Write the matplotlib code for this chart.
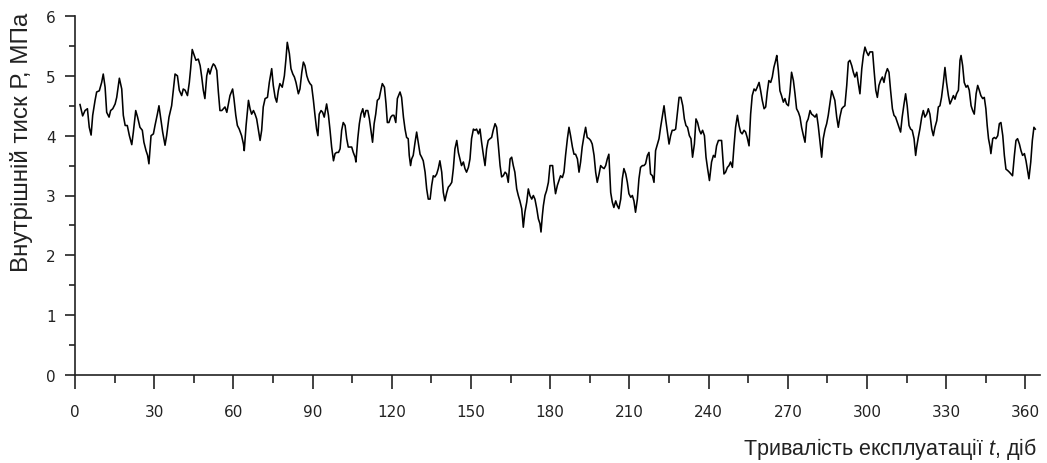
import matplotlib
matplotlib.use("Agg")
import matplotlib.pyplot as plt
from matplotlib.ticker import MultipleLocator

# доба експлуатації
day = [
    1.9, 2.9, 3.8, 4.7, 5.4, 6.1, 6.7, 7.6, 8.2, 9.2, 10.1, 10.7, 11.4, 12.0, 12.9, 13.5, 14.3, 15.2, 15.8, 16.8,
    17.7, 18.3, 19.0, 19.8, 20.6, 21.5, 22.1, 23.0, 23.7, 24.6, 25.5, 26.1, 26.9, 27.5, 28.0, 28.8, 29.7, 30.3, 31.2, 31.8,
    32.5, 33.2, 34.1, 34.7, 35.6, 36.6, 37.3, 37.9, 38.8, 39.5, 40.4, 41.0, 41.7, 42.6, 43.3, 43.8, 44.4, 45.2, 45.8, 46.7,
    47.4, 48.0, 48.6, 49.2, 49.9, 50.5, 51.1, 51.8, 52.4, 53.0, 53.7, 54.3, 54.9, 55.6, 56.2, 56.8, 57.5, 58.1,
    58.7, 59.7, 60.2, 60.9, 61.5, 62.2, 63.1, 63.8, 64.1, 64.8, 65.7, 66.3, 66.9, 67.6, 68.2, 68.8, 69.4, 70.1, 70.7, 71.3,
    72.0, 72.9, 73.6, 74.5, 75.1, 75.8, 76.4, 77.0, 77.6, 78.5, 79.3, 79.9, 80.4, 81.2, 81.8, 82.5, 83.1, 83.7, 84.6, 85.2,
    85.9, 86.5, 87.1, 87.8, 88.4, 89.0, 89.6, 90.3, 90.9, 91.5, 92.0, 92.5, 93.2, 93.8, 94.4, 95.3, 96.0, 96.6, 97.2, 97.9,
    98.5, 99.1, 99.8, 100.4, 101.0, 101.6, 102.3, 102.9, 103.5, 104.2, 104.8, 105.4, 106.1, 106.4, 107.1, 107.7, 108.3, 109.0, 109.6, 110.2,
    110.9, 111.5, 112.1, 112.7, 113.3, 113.9, 114.5, 115.2, 115.8, 116.4, 117.2, 117.8, 118.3, 118.9,
    119.6, 120.2, 120.8, 121.5, 122.1, 123.1, 123.7, 124.4, 125.0, 125.6, 126.2, 126.6, 127.1, 127.5, 128.1, 128.8, 129.4, 130.0,
    130.7, 131.3, 131.9, 132.6, 133.2, 133.8, 134.5, 135.1, 135.7, 136.3, 137.0, 137.6, 138.2, 138.9, 139.5, 140.1, 140.8, 141.4,
    142.0, 142.7, 143.3, 143.9, 144.6, 145.2, 145.8, 146.4, 147.1, 147.7, 148.3, 149.0, 149.6, 150.2, 150.9, 151.5, 152.1, 152.8,
    153.4, 154.0, 154.7, 155.3, 155.9, 156.5, 157.2, 157.8, 158.4, 159.1, 159.7, 160.3, 161.0, 161.6, 162.2, 162.9, 163.5, 164.1,
    164.8, 165.4, 166.0, 166.6, 167.3, 167.9, 168.5, 169.2, 169.8, 170.4, 171.1, 171.7, 172.3, 173.0, 173.6, 174.2, 174.9, 175.5,
    176.1, 176.5, 177.0, 177.4, 178.0, 178.6, 179.3,
    179.9, 180.9, 181.4, 182.0, 182.7, 183.3, 183.9, 184.6, 185.2, 185.8, 186.5, 187.1, 187.7, 188.4, 189.0, 189.6, 190.3, 190.9,
    191.5, 192.1, 192.8, 193.4, 194.0, 194.7, 195.3, 195.9, 196.6, 197.2, 197.8, 198.5, 199.1, 199.7, 200.4, 201.0, 201.6, 202.2,
    202.9, 203.5, 204.1, 204.8, 205.4, 206.0, 206.7, 207.3, 207.9, 208.6, 209.2, 209.8, 210.5, 211.1, 211.7, 212.3, 213.0, 213.6,
    214.2, 214.9, 215.5, 216.1, 216.8, 217.4, 218.0, 218.7, 219.3, 219.9, 220.6, 221.2, 221.8, 222.5, 223.1, 223.7, 224.3, 225.0,
    225.6, 226.2, 226.9, 227.5, 228.1, 228.8, 229.5, 230.2, 230.8, 231.4, 232.0, 232.7, 233.3, 233.9, 234.6, 235.2, 235.8, 236.5,
    237.1, 237.7, 238.4, 239.0, 239.6, 240.3,
    241.1, 241.8, 242.4, 243.0, 243.7, 244.3, 244.9, 245.3, 245.8, 246.4, 247.1, 247.7, 248.3, 249.0, 249.6, 250.2, 250.9, 251.5,
    252.1, 252.7, 253.4, 254.0, 254.6, 255.3, 255.9, 256.5, 257.2, 257.8, 258.4, 259.1, 259.7, 260.3, 261.0, 261.6, 262.2, 262.8,
    263.5, 264.1, 264.7, 265.4, 265.8, 266.4, 267.0, 267.6, 268.3, 268.9, 269.5, 270.2, 270.8, 271.4, 272.1, 272.7, 273.3, 274.0,
    274.6, 275.2, 275.9, 276.5, 277.1, 277.7, 278.4, 279.0, 279.6, 280.3, 280.9, 281.5, 282.2, 282.8, 283.4, 284.1, 284.7, 285.3,
    286.0, 286.6, 287.2, 287.8, 288.5, 289.1, 289.7, 290.4, 291.0, 291.6, 292.3, 292.9, 293.5, 294.2, 294.8, 295.4, 296.1, 296.7,
    297.3, 298.0, 298.6, 299.2, 299.8, 300.5,
    301.1, 302.1, 302.6, 303.3, 303.9, 304.5, 305.1, 305.8, 306.4, 307.0, 307.7, 308.3, 308.9, 309.6, 310.2, 310.8, 311.5, 312.1,
    312.7, 313.3, 314.0, 314.6, 315.2, 315.9, 316.5, 317.1, 317.8, 318.4, 318.8, 319.4, 320.0, 320.7, 321.3, 321.9, 322.6, 323.2,
    323.8, 324.5, 325.1, 325.7, 326.4, 327.0, 327.6, 328.2, 328.9, 329.5, 330.1, 330.8, 331.4, 332.0, 332.7, 333.3, 333.9, 334.6,
    335.2, 335.6, 336.2, 336.8, 337.5, 338.1, 338.7, 339.4, 340.0, 340.6, 341.3, 341.9, 342.5, 343.1, 343.8, 344.4, 345.0, 345.5,
    346.0, 346.6, 346.9, 347.6, 348.2, 348.8, 349.5, 350.1, 350.7, 351.4, 352.0, 352.6, 353.2, 353.9, 354.5, 355.1, 355.8, 356.4,
    357.0, 357.7, 358.3, 358.9, 359.6, 360.2, 360.8, 361.3, 362.0, 362.6, 363.2, 363.7,
]

# внутрішній тиск, МПа
pressure = [
    4.52, 4.33, 4.42, 4.45, 4.14, 4.01, 4.34, 4.59, 4.73, 4.75, 4.89, 5.03, 4.81, 4.39, 4.31, 4.42, 4.45, 4.53, 4.64, 4.96,
    4.78, 4.34, 4.17, 4.17, 4.00, 3.85, 4.06, 4.42, 4.31, 4.14, 4.09, 3.89, 3.75, 3.67, 3.53, 4.00, 4.03, 4.17, 4.36, 4.50,
    4.28, 4.06, 3.84, 4.00, 4.31, 4.50, 4.78, 5.03, 5.00, 4.76, 4.67, 4.78, 4.76, 4.67, 4.89, 5.12, 5.44, 5.34, 5.26, 5.28,
    5.17, 4.98, 4.76, 4.62, 5.00, 5.12, 5.03, 5.14, 5.20, 5.17, 5.09, 4.73, 4.42, 4.42, 4.45, 4.48, 4.39, 4.53,
    4.67, 4.78, 4.62, 4.34, 4.17, 4.11, 4.00, 3.86, 3.75, 4.17, 4.59, 4.45, 4.36, 4.42, 4.36, 4.28, 4.11, 3.92, 4.09, 4.48,
    4.62, 4.64, 4.89, 5.12, 4.84, 4.64, 4.56, 4.75, 4.87, 4.81, 5.00, 5.28, 5.56, 5.37, 5.12, 5.03, 4.98, 4.89, 4.70, 4.78,
    5.06, 5.23, 5.17, 5.00, 4.92, 4.87, 4.84, 4.59, 4.34, 4.11, 4.00, 4.36, 4.42, 4.39, 4.31, 4.53, 4.34, 4.09, 3.81, 3.58,
    3.70, 3.72, 3.72, 3.78, 4.09, 4.22, 4.17, 3.95, 3.81, 3.81, 3.81, 3.72, 3.64, 3.56, 3.95, 4.20, 4.36, 4.45, 4.31, 4.42,
    4.42, 4.28, 4.09, 3.89, 4.20, 4.36, 4.59, 4.62, 4.75, 4.87, 4.81, 4.53, 4.22, 4.22,
    4.31, 4.34, 4.34, 4.22, 4.62, 4.73, 4.64, 4.31, 4.11, 3.97, 3.95, 3.67, 3.50, 3.61, 3.67, 3.89, 4.06, 3.89,
    3.69, 3.64, 3.58, 3.39, 3.11, 2.94, 2.94, 3.17, 3.33, 3.31, 3.36, 3.45, 3.58, 3.39, 3.05, 2.91, 3.05, 3.14,
    3.17, 3.22, 3.45, 3.78, 3.92, 3.72, 3.61, 3.50, 3.56, 3.45, 3.39, 3.47, 3.61, 3.95, 4.11, 4.09, 4.11, 4.03,
    4.11, 3.89, 3.67, 3.50, 3.78, 3.92, 3.95, 3.97, 4.09, 4.20, 4.14, 3.86, 3.50, 3.31, 3.33, 3.39, 3.36, 3.22,
    3.61, 3.64, 3.50, 3.39, 3.11, 3.00, 2.91, 2.78, 2.47, 2.72, 2.89, 3.11, 3.00, 2.94, 3.00, 2.94, 2.78, 2.61,
    2.53, 2.39, 2.66, 2.83, 3.00, 3.08, 3.22,
    3.50, 3.50, 3.25, 3.03, 3.17, 3.25, 3.33, 3.30, 3.39, 3.67, 3.95, 4.14, 4.00, 3.81, 3.69, 3.69, 3.61, 3.39,
    3.56, 3.81, 4.00, 4.14, 3.97, 3.95, 3.92, 3.86, 3.67, 3.39, 3.22, 3.36, 3.50, 3.47, 3.45, 3.50, 3.61, 3.69,
    3.05, 2.89, 2.80, 2.91, 2.83, 2.78, 2.94, 3.28, 3.45, 3.36, 3.22, 3.03, 2.97, 3.00, 2.91, 2.72, 2.94, 3.28,
    3.47, 3.50, 3.50, 3.53, 3.67, 3.72, 3.36, 3.33, 3.22, 3.75, 3.86, 3.95, 4.14, 4.34, 4.50, 4.28, 4.09, 3.86,
    4.00, 4.09, 4.09, 4.11, 4.36, 4.64, 4.64, 4.50, 4.28, 4.17, 4.14, 4.00, 3.95, 3.64, 3.86, 4.28, 4.22, 4.09,
    4.03, 4.09, 4.00, 3.64, 3.45, 3.25,
    3.56, 3.67, 3.64, 3.83, 3.92, 3.92, 3.92, 3.67, 3.36, 3.39, 3.47, 3.50, 3.56, 3.47, 3.83, 4.14, 4.34, 4.17,
    4.06, 4.03, 4.09, 4.06, 3.97, 3.83, 4.36, 4.67, 4.78, 4.75, 4.81, 4.89, 4.75, 4.59, 4.45, 4.48, 4.73, 4.92,
    4.89, 4.98, 5.14, 5.26, 5.34, 5.09, 4.75, 4.67, 4.56, 4.62, 4.53, 4.50, 4.73, 5.06, 4.92, 4.70, 4.45, 4.39,
    4.31, 4.14, 4.00, 3.89, 4.22, 4.28, 4.42, 4.36, 4.34, 4.31, 4.36, 4.17, 3.89, 3.64, 3.95, 4.11, 4.20, 4.34,
    4.56, 4.75, 4.67, 4.59, 4.31, 4.14, 4.31, 4.45, 4.48, 4.50, 4.84, 5.23, 5.26, 5.17, 5.06, 4.98, 5.06, 4.87,
    4.70, 5.12, 5.34, 5.48, 5.40, 5.34,
    5.40, 5.40, 5.12, 4.76, 4.64, 4.84, 4.92, 4.98, 4.89, 5.03, 5.12, 5.06, 4.76, 4.45, 4.34, 4.31, 4.22, 4.14,
    4.06, 4.31, 4.53, 4.70, 4.50, 4.17, 4.11, 4.09, 3.95, 3.67, 3.81, 3.97, 4.11, 4.31, 4.42, 4.31, 4.36, 4.45,
    4.36, 4.11, 4.00, 4.14, 4.25, 4.48, 4.50, 4.64, 4.89, 5.14, 4.89, 4.67, 4.53, 4.59, 4.67, 4.61, 4.70, 4.76,
    5.26, 5.34, 5.17, 4.89, 4.81, 4.84, 4.76, 4.50, 4.42, 4.36, 4.70, 4.84, 4.76, 4.67, 4.62, 4.64, 4.45, 4.17,
    3.95, 3.81, 3.70, 3.95, 3.97, 3.95, 4.00, 4.20, 4.22, 4.00, 3.67, 3.44, 3.42, 3.39, 3.36, 3.33, 3.67, 3.92,
    3.95, 3.86, 3.75, 3.67, 3.70, 3.58, 3.42, 3.28, 3.56, 3.92, 4.14, 4.11,
]

plt.rcParams['font.family'] = ['Liberation Sans', 'DejaVu Sans']
plt.rcParams['mathtext.fontset'] = 'custom'
plt.rcParams['mathtext.rm'] = 'Liberation Sans'
plt.rcParams['mathtext.it'] = 'Liberation Sans:italic'

W, H = 1047, 464
fig = plt.figure(figsize=(W / 100, H / 100), dpi=100)
ax = fig.add_axes([75 / W, 1 - 376 / H, (1040 - 75) / W, (376 - 17) / H])

ax.plot(day, pressure, color='black', lw=1.15)

ax.set_xlim(0, 365.5)
ax.set_ylim(0, 6)
for side in ['top', 'right']:
    ax.spines[side].set_visible(False)
for side in ['left', 'bottom']:
    ax.spines[side].set_linewidth(1.2)
    ax.spines[side].set_color('#222222')

ax.xaxis.set_major_locator(MultipleLocator(30))
ax.xaxis.set_minor_locator(MultipleLocator(15))
ax.yaxis.set_major_locator(MultipleLocator(1))
ax.yaxis.set_minor_locator(MultipleLocator(0.5))

ax.tick_params(axis='x', which='major', length=10, width=1.2, pad=11, colors='#222222')
ax.tick_params(axis='x', which='minor', length=6, width=1.2, colors='#222222')
ax.tick_params(axis='y', which='major', length=7, width=1.2, pad=7, colors='#222222')
ax.tick_params(axis='y', which='minor', length=4.5, width=1.2, colors='#222222')
for lab in ax.get_xticklabels() + ax.get_yticklabels():
    lab.set_family('DejaVu Sans')
    lab.set_fontsize(11)

fig.text(22 / W, 1 - 142 / H, 'Внутрішній тиск Р, МПа', rotation=90,
         ha='center', va='center', fontsize=17.5, color='#222222')
fig.text(1037 / W, 1 - 449 / H, r'Тривалість експлуатації $\it{t}$, діб',
         ha='right', va='center', fontsize=15.5, color='#222222')

fig.savefig('out.png', dpi=100)
